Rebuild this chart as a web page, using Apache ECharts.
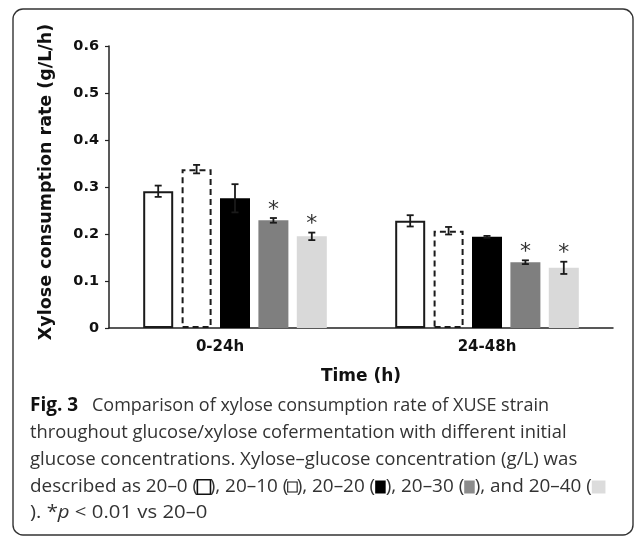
<!DOCTYPE html>
<html>
<head>
<meta charset="utf-8">
<script src="https://cdn.jsdelivr.net/npm/echarts@6/dist/echarts.min.js"></script>
<style>
html,body{margin:0;padding:0;background:#fff;}
#chart{width:634px;height:536px;}
</style>
</head>
<body>
<div id="chart"></div>
<script>
// ---- data ----
const categories = ['0-24h', '24-48h'];
const seriesNames = ['20–0', '20–10', '20–20', '20–30', '20–40'];
const values = [
  [0.291, 0.228],
  [0.338, 0.207],
  [0.276, 0.194],
  [0.229, 0.140],
  [0.195, 0.128]
];
const errors = [
  [0.012, 0.012],
  [0.009, 0.008],
  [0.030, 0.002],
  [0.005, 0.004],
  [0.008, 0.013]
];
const significant = [
  [false, false],
  [false, false],
  [false, false],
  [true, true],
  [true, true]
];
const yTicks = [0, 0.1, 0.2, 0.3, 0.4, 0.5, 0.6];
const yAxisName = 'Xylose consumption rate (g/L/h)';
const xAxisName = 'Time (h)';
const figLabel = 'Fig. 3';
const captionLines = [
  'Comparison of xylose consumption rate of XUSE strain',
  'throughout glucose/xylose cofermentation with different initial',
  'glucose concentrations. Xylose–glucose concentration (g/L) was',
  'described as 20–0 ({s1|}), 20–10 ({s2|}), 20–20 ({s3|}), 20–30 ({s4|}), and 20–40 ({s5|}',
  '). *{i|p} < 0.01 vs 20–0'
];

// ---- styles / layout ----
const BAR_W = 30;
const GAP_PX = 8.4;
const boldFont = 'DejaVu Sans';
const capFont = '"Open Sans"';
const barStyles = [
  {color: '#ffffff', borderColor: '#1a1a1a', borderWidth: 2},
  {color: '#ffffff', borderColor: '#1a1a1a', borderWidth: 2, borderType: [6, 4]},
  {color: '#000000'},
  {color: '#7f7f7f'},
  {color: '#d9d9d9'}
];
const captionBaselines = [416, 443, 470, 497, 523];
const captionX = [92, 30, 30, 30, 30];
const captionScale = [1.0, 1.02, 1.035, 1.05, 1.13];

const barSeries = seriesNames.map((name, s) => ({
  name: name,
  type: 'bar',
  barWidth: BAR_W,
  barGap: (GAP_PX / BAR_W * 100) + '%',
  itemStyle: barStyles[s],
  data: values[s],
  z: 2
}));

const errData = [];
seriesNames.forEach((n, s) => {
  categories.forEach((c, i) => {
    errData.push([i, values[s][i], errors[s][i], s, significant[s][i] ? 1 : 0]);
  });
});

const errSeries = {
  type: 'custom',
  z: 5,
  silent: true,
  data: errData,
  renderItem: function (params, api) {
    const ci = api.value(0), v = api.value(1), e = api.value(2), s = api.value(3), sig = api.value(4);
    const off = (s - 2) * (BAR_W + GAP_PX);
    const top = api.coord([ci, v + e]);
    const bot = api.coord([ci, v - e]);
    const x = top[0] + off;
    const cap = 3.5;
    const st = {stroke: '#1a1a1a', lineWidth: 1.8};
    const children = [
      {type: 'line', shape: {x1: x, y1: top[1], x2: x, y2: bot[1]}, style: st},
      {type: 'line', shape: {x1: x - cap, y1: top[1], x2: x + cap, y2: top[1]}, style: st},
      {type: 'line', shape: {x1: x - cap, y1: bot[1], x2: x + cap, y2: bot[1]}, style: st}
    ];
    if (sig) {
      children.push({
        type: 'text',
        style: {text: '*', x: x, y: top[1] - 8, align: 'center', verticalAlign: 'middle',
          font: '22px "DejaVu Sans"', fill: '#333'}
      });
    }
    return {type: 'group', children: children};
  }
};

const rich = {
  i: {fontFamily: capFont, fontStyle: 'italic', fontSize: 18, color: '#333'},
  s1: {width: 11, height: 13, backgroundColor: '#fff', borderColor: '#111', borderWidth: 1.5},
  s2: {width: 8, height: 9, backgroundColor: '#fff', borderColor: '#111', borderWidth: 1, borderType: 'dashed'},
  s3: {width: 10, height: 13, backgroundColor: '#000'},
  s4: {width: 10, height: 13, backgroundColor: '#8c8c8c'},
  s5: {width: 13, height: 13, backgroundColor: '#dcdcdc'}
};

const graphics = [
  {type: 'rect', shape: {x: 13, y: 9, width: 620, height: 526, r: 10},
    style: {fill: 'none', stroke: '#333', lineWidth: 1.4}, z: 0, silent: true},
  {type: 'text', x: 30, y: captionBaselines[0] - 20, z: 10,
    style: {text: figLabel, font: 'bold 19px "Open Sans"', fill: '#111', verticalAlign: 'top'}}
];
captionLines.forEach((t, k) => {
  graphics.push({
    type: 'text', x: captionX[k], y: captionBaselines[k] - 19, scaleX: captionScale[k], z: 10,
    style: {text: t, font: '18px "Open Sans"', fill: '#333', rich: rich, verticalAlign: 'top'}
  });
});

const chart = echarts.init(document.getElementById('chart'), null, {renderer: 'canvas'});
chart.setOption({
  animation: false,
  backgroundColor: '#fff',
  grid: {left: 109, right: 21, top: 46, bottom: 208, containLabel: false},
  xAxis: {
    type: 'category',
    data: categories,
    axisLine: {lineStyle: {color: '#222', width: 1.5}},
    axisTick: {show: false},
    axisLabel: {
      margin: 12,
      formatter: function (v, idx) { return idx === 0 ? '{a|' + v + '}' : '{c|' + v + '}'; },
      rich: {
        a: {fontFamily: boldFont, fontWeight: 'bold', fontSize: 15, color: '#111', padding: [0, 30, 0, 0]},
        c: {fontFamily: boldFont, fontWeight: 'bold', fontSize: 15, color: '#111'}
      }
    },
    name: xAxisName,
    nameLocation: 'middle',
    nameGap: 40,
    nameTextStyle: {fontFamily: boldFont, fontWeight: 'bold', fontSize: 17, color: '#111'}
  },
  yAxis: {
    type: 'value',
    min: yTicks[0],
    max: yTicks[yTicks.length - 1],
    interval: 0.1,
    axisLine: {show: true, lineStyle: {color: '#222', width: 1.5}},
    axisTick: {show: true, length: 4, lineStyle: {color: '#222', width: 1.2}},
    splitLine: {show: false},
    axisLabel: {margin: 10, fontFamily: boldFont, fontWeight: 'bold', fontSize: 14.5, color: '#111',
      formatter: v => String(Math.round(v * 10) / 10)},
    name: yAxisName,
    nameLocation: 'middle',
    nameRotate: 90,
    nameGap: 54,
    nameTextStyle: {fontFamily: boldFont, fontWeight: 'bold', fontSize: 17.5, color: '#111', padding: [0, 0, 0, 10]}
  },
  series: barSeries.concat([errSeries]),
  graphic: graphics
});
</script>
</body>
</html>
